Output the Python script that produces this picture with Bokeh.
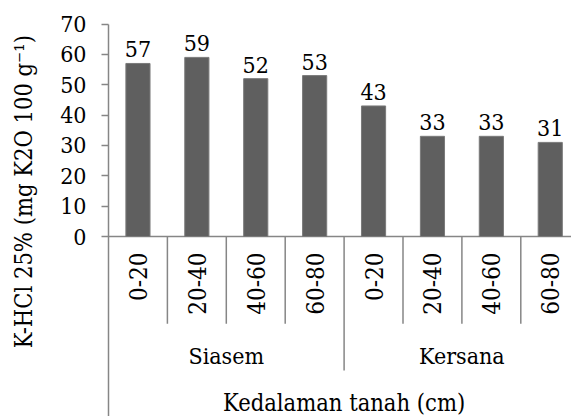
import numpy as np
from bokeh.plotting import figure
from bokeh.models import Range1d, FixedTicker, ColumnDataSource, Label
from bokeh.embed import file_html
from bokeh.resources import INLINE

# ---- data ----
groups = ["Siasem", "Siasem", "Siasem", "Siasem", "Kersana", "Kersana", "Kersana", "Kersana"]
depths = ["0-20", "20-40", "40-60", "60-80", "0-20", "20-40", "40-60", "60-80"]
values = [57, 59, 52, 53, 43, 33, 33, 31]
y_ticks = [0, 10, 20, 30, 40, 50, 60, 70]
group_names = ["Siasem", "Kersana"]
y_title = "K-HCl 25% (mg K2O 100 g\u207b\u00b9)"
x_title = "Kedalaman tanah (cm)"

FONT = "DejaVu Serif Condensed"
FS = "23px"
AXIS_GRAY = "#868686"
BAR_COLOR = "#5f5f5f"

n = len(values)
xc = np.arange(n) + 0.5  # category centres

W, H = 571, 416
LEFT = 108
px_per_cat = 58.9
px_per_unit = 212.5 / 70.0
x_end = (W - LEFT) / px_per_cat
y_end = 70 + 23.5 / px_per_unit
y_start = -(H - 236) / px_per_unit

p = figure(width=W, height=H, output_backend="svg", toolbar_location=None,
           x_range=Range1d(0, x_end), y_range=Range1d(y_start, y_end),
           x_axis_location=None, min_border_left=LEFT, min_border_right=0,
           min_border_top=0, min_border_bottom=0)
p.outline_line_color = None
p.grid.visible = False

# y axis
yax = p.yaxis[0]
yax.ticker = FixedTicker(ticks=y_ticks)
yax.bounds = (y_start, 70)
yax.axis_line_color = AXIS_GRAY
yax.axis_line_width = 1.5
yax.major_tick_line_color = AXIS_GRAY
yax.major_tick_line_width = 1.5
yax.major_tick_out = 7
yax.major_tick_in = 0
yax.minor_tick_line_color = None
yax.major_label_text_font = FONT
yax.major_label_text_font_size = FS
yax.major_label_text_color = "black"
yax.major_label_standoff = 15
# leading no-break spaces shift the centred title upward to match the reference
yax.axis_label = "\u00a0" * 5 + y_title
yax.axis_label_text_font = FONT
yax.axis_label_text_font_style = "normal"
yax.axis_label_text_font_size = "23.5px"
yax.axis_label_text_color = "black"
yax.axis_label_standoff = 19

# baseline at 0
p.segment(x0=[0], y0=[0], x1=[x_end], y1=[0], line_color=AXIS_GRAY, line_width=1.5)

# bars
src = ColumnDataSource(dict(x=xc, top=values))
p.vbar(x="x", top="top", bottom=0, width=0.41, source=src,
       fill_color=BAR_COLOR, line_color="#7a7a7a", line_width=1)


def label(x, y, text, **kw):
    opts = dict(text_font=FONT, text_font_size=FS, text_color="black",
                text_align="center", text_baseline="middle")
    opts.update(kw)
    p.add_layout(Label(x=x, y=y, text=text, **opts))


# value labels
for x, v in zip(xc, values):
    label(float(x), v, str(v), text_baseline="alphabetic", y_offset=14)

# category dividers
bounds = np.arange(1, n)
is_group = np.array([groups[i] != groups[i - 1] for i in bounds])
minor_b = bounds[~is_group]
major_b = bounds[is_group]
p.segment(x0=minor_b, y0=np.zeros(len(minor_b)), x1=minor_b,
          y1=np.full(len(minor_b), -28.7), line_color=AXIS_GRAY, line_width=1.5)
p.segment(x0=major_b, y0=np.zeros(len(major_b)), x1=major_b,
          y1=np.full(len(major_b), -44.1), line_color=AXIS_GRAY, line_width=1.5)

# depth labels (rotated)
for x, d in zip(xc, depths):
    label(float(x), -5.3, d, text_font_size="24px", angle=np.pi / 2, text_align="right")

# group labels
for g in group_names:
    gx = float(np.mean([xc[i] for i in range(n) if groups[i] == g]))
    label(gx, -39.2, g)

# x title
label(n / 2, -54.7, x_title, text_font_size="23.5px")

open("out.html", "w").write(file_html(p, INLINE))
